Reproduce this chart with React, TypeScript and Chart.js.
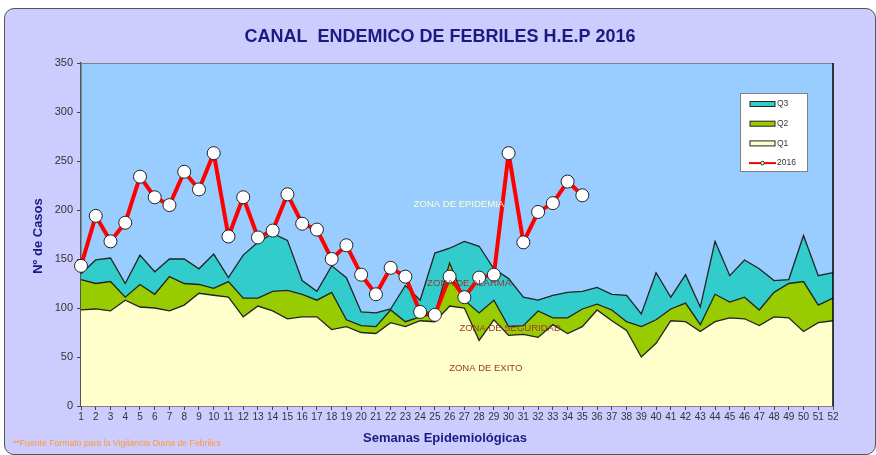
import React, { useEffect, useRef } from "react";
import { Chart, registerables } from "chart.js";

Chart.register(...registerables);

const weeks: string[] = Array.from({ length: 52 }, (_, i) => String(i + 1));

const q3: number[] = [
  135, 149, 151, 125, 154, 137, 150, 150, 140, 155, 131, 154, 167, 176, 169, 128, 117, 143, 131, 96,
  95, 99, 123, 108, 156, 161, 168, 163, 140, 130, 111, 108, 113, 116, 117, 121, 114, 113, 94, 136,
  111, 134, 101, 168, 133, 149, 140, 128, 129, 174, 133, 136,
];

const q2: number[] = [
  129, 125, 127, 111, 124, 114, 132, 125, 124, 120, 127, 110, 110, 117, 118, 114, 108, 116, 88, 82,
  81, 98, 86, 91, 94, 146, 108, 95, 108, 81, 82, 97, 90, 90, 99, 104, 98, 86, 81, 88,
  99, 105, 83, 114, 106, 111, 98, 116, 125, 127, 103, 110,
];

const q1: number[] = [
  98, 99, 97, 108, 101, 100, 97, 103, 115, 113, 111, 91, 102, 97, 89, 91, 91, 78, 81, 75,
  74, 85, 81, 87, 86, 102, 100, 67, 88, 72, 73, 70, 83, 74, 81, 98, 87, 77, 50, 64,
  87, 86, 76, 86, 90, 89, 82, 91, 90, 76, 85, 87,
];

const y2016: number[] = [
  143, 194, 168, 187, 234, 213, 205, 239, 221, 258, 173, 213, 172, 179, 216, 186, 180, 150, 164, 134,
  114, 141, 132, 96, 93, 132, 111, 131, 134, 258, 167, 198, 207, 229, 215,
];

const yTicks: number[] = [0, 50, 100, 150, 200, 250, 300, 350];

const FONT = "'Liberation Sans', Arial, sans-serif";

const legendItems = [
  { label: "Q3", type: "box", color: "#33CCCC" },
  { label: "Q2", type: "box", color: "#99CC00" },
  { label: "Q1", type: "box", color: "#FFFFCC" },
  { label: "2016", type: "line", color: "#FF0000" },
];

const zoneLabels = [
  { text: "ZONA DE EPIDEMIA", week: 26.63, value: 206, color: "#FFFFCC" },
  { text: "ZONA DE ALARMA", week: 27.32, value: 125, color: "#993333" },
  { text: "ZONA DE SEGURIDAD", week: 30.1, value: 79, color: "#993333" },
  { text: "ZONA DE EXITO", week: 28.45, value: 38, color: "#993333" },
];

const decorPlugin = {
  id: "decor",
  beforeDraw(chart: any) {
    const { ctx, chartArea } = chart;
    ctx.save();
    ctx.fillStyle = "#99CCFF";
    ctx.fillRect(chartArea.left, chartArea.top, chartArea.right - chartArea.left, chartArea.bottom - chartArea.top);
    ctx.restore();
  },
  afterDatasetsDraw(chart: any) {
    const { ctx, scales } = chart;
    ctx.save();
    ctx.font = `9.5px ${FONT}`;
    ctx.textAlign = "center";
    ctx.textBaseline = "middle";
    for (const z of zoneLabels) {
      const x = scales.x.getPixelForValue(z.week - 1);
      const y = scales.y.getPixelForValue(z.value);
      ctx.fillStyle = z.color;
      ctx.fillText(z.text, x, y);
    }
    ctx.restore();
  },
  afterDraw(chart: any) {
    const { ctx, chartArea } = chart;
    ctx.save();
    ctx.strokeStyle = "#808080";
    ctx.lineWidth = 1;
    ctx.beginPath();
    ctx.moveTo(chartArea.left, chartArea.top + 0.5);
    ctx.lineTo(chartArea.right, chartArea.top + 0.5);
    ctx.stroke();
    ctx.strokeStyle = "#000";
    ctx.lineWidth = 1.5;
    ctx.beginPath();
    ctx.moveTo(chartArea.right, chartArea.top);
    ctx.lineTo(chartArea.right, chartArea.bottom);
    ctx.stroke();

    ctx.fillStyle = "#1A1A80";
    ctx.font = `bold 18px ${FONT}`;
    ctx.textAlign = "center";
    ctx.textBaseline = "middle";
    ctx.fillText("CANAL  ENDEMICO DE FEBRILES H.E.P 2016", 440, 37);

    ctx.font = `bold 13px ${FONT}`;
    ctx.fillText("Semanas Epidemiológicas", 445, 438);
    ctx.save();
    ctx.translate(38, 236);
    ctx.rotate(-Math.PI / 2);
    ctx.fillText("Nº de Casos", 0, 0);
    ctx.restore();

    ctx.fillStyle = "#FF9933";
    ctx.font = `8.7px ${FONT}`;
    ctx.textAlign = "left";
    ctx.fillText("**Fuente Formato para la Vigilancia Diaria de Febriles", 13, 444);

    const lx = 740, ly = 93, lw = 67, lh = 78;
    ctx.fillStyle = "#FFFFFF";
    ctx.fillRect(lx, ly, lw, lh);
    ctx.strokeStyle = "#808080";
    ctx.lineWidth = 1;
    ctx.strokeRect(lx + 0.5, ly + 0.5, lw, lh);
    ctx.font = `8.5px ${FONT}`;
    ctx.textBaseline = "middle";
    legendItems.forEach((it, i) => {
      const y = ly + 11 + i * 19.7;
      if (it.type === "box") {
        ctx.fillStyle = it.color;
        ctx.fillRect(lx + 10, y - 2.5, 25, 5);
        ctx.strokeStyle = "#222";
        ctx.lineWidth = 1;
        ctx.strokeRect(lx + 10, y - 2.5, 25, 5);
      } else {
        ctx.strokeStyle = it.color;
        ctx.lineWidth = 2;
        ctx.beginPath();
        ctx.moveTo(lx + 9, y);
        ctx.lineTo(lx + 36, y);
        ctx.stroke();
        ctx.fillStyle = "#fff";
        ctx.strokeStyle = "#222";
        ctx.lineWidth = 1;
        ctx.beginPath();
        ctx.arc(lx + 22.5, y, 1.8, 0, Math.PI * 2);
        ctx.fill();
        ctx.stroke();
      }
      ctx.fillStyle = "#333";
      ctx.textAlign = "left";
      ctx.fillText(it.label, lx + 37, y);
    });
    ctx.restore();
  },
};

export default function App() {
  const ref = useRef<HTMLCanvasElement | null>(null);

  useEffect(() => {
    if (!ref.current) return;
    const areaCommon = {
      type: "line" as const,
      fill: "origin",
      borderColor: "#222222",
      borderWidth: 1.3,
      pointRadius: 0,
      tension: 0,
    };
    const chart = new Chart(ref.current, {
      type: "line",
      data: {
        labels: weeks,
        datasets: [
          {
            label: "2016",
            data: y2016,
            borderColor: "#FF0000",
            borderWidth: 4,
            borderJoinStyle: "round",
            borderCapStyle: "round",
            pointRadius: 6.5,
            pointBackgroundColor: "#FFFFFF",
            pointBorderColor: "#222222",
            pointBorderWidth: 1,
            fill: false,
            tension: 0,
            order: 1,
          },
          { ...areaCommon, label: "Q1", data: q1, backgroundColor: "#FFFFCC", order: 2 },
          { ...areaCommon, label: "Q2", data: q2, backgroundColor: "#99CC00", order: 3 },
          { ...areaCommon, label: "Q3", data: q3, backgroundColor: "#33CCCC", order: 4 },
        ] as any,
      },
      options: {
        responsive: false,
        animation: false,
        layout: { padding: { left: 0, top: 63, right: 43, bottom: 0 } },
        plugins: {
          legend: { display: false },
          title: { display: false },
          tooltip: { enabled: false },
        },
        scales: {
          x: {
            type: "category",
            offset: false,
            afterFit: (s: any) => {
              s.height = 49;
            },
            grid: { display: true, drawOnChartArea: false, drawTicks: true, tickLength: 4, color: "#444" },
            border: { display: true, color: "#333", width: 1.5 },
            ticks: {
              autoSkip: false,
              maxRotation: 0,
              padding: 1,
              color: "#333",
              font: { family: FONT, size: 10 },
            },
          },
          y: {
            type: "linear",
            min: 0,
            max: 350,
            afterFit: (s: any) => {
              s.width = 81;
            },
            afterBuildTicks: (s: any) => {
              s.ticks = yTicks.map((v) => ({ value: v }));
            },
            grid: { display: true, drawOnChartArea: false, drawTicks: true, tickLength: 4, color: "#444" },
            border: { display: true, color: "#555", width: 1.5 },
            ticks: {
              padding: 4,
              color: "#333",
              font: { family: FONT, size: 11 },
            },
          },
        },
      } as any,
      plugins: [decorPlugin],
    });
    return () => chart.destroy();
  }, []);

  return (
    <div style={{ position: "fixed", left: 0, top: 0, width: 876, height: 455, background: "#fff" }}>
      <div
        style={{
          position: "absolute",
          left: 4,
          top: 8,
          width: 870,
          height: 445,
          background: "#CCCCFF",
          border: "1px solid #555",
          borderRadius: 10,
        }}
      />
      <canvas ref={ref} width={876} height={455} style={{ position: "absolute", left: 0, top: 0 }} />
    </div>
  );
}
